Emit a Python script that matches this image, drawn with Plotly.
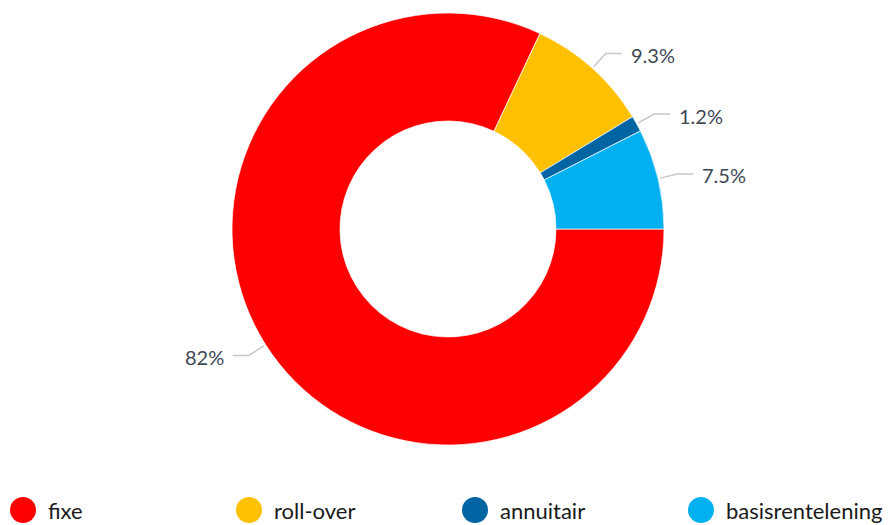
import math
import plotly.graph_objects as go

# ---- data ----
categories = ["fixe", "roll-over", "annuitair", "basisrentelening"]
values = [82, 9.3, 1.2, 7.5]
value_labels = ["82%", "9.3%", "1.2%", "7.5%"]
colors = ["#FF0000", "#FFC000", "#0065A2", "#00B0F0"]

# ---- layout constants ----
W, H = 889, 525
CX, CY, R = 448, 229, 216  # pie centre / radius in pixels
dom_x = [(CX - R) / W, (CX + R) / W]
dom_y = [1 - (CY + R) / H, 1 - (CY - R) / H]

LABEL_FONT = dict(family="Lato, 'Open Sans', sans-serif", size=20, color="#3D4756")
LEGEND_FONT = dict(family="Lato, 'Open Sans', sans-serif", size=22, color="#1A1A1A")

fig = go.Figure(
    go.Pie(
        labels=categories,
        values=values,
        marker=dict(colors=colors, line=dict(color="white", width=0.7)),
        hole=0.5,
        sort=False,
        direction="clockwise",
        rotation=90,
        textinfo="none",
        domain=dict(x=dom_x, y=dom_y),
        showlegend=False,
    )
)

def px(x):
    return x / W

def py(y):
    return 1 - y / H

shapes = []
annotations = []
total = sum(values)
cum = 0.0
for lab, v in zip(value_labels, values):
    mid = (cum + v / 2) / total * 2 * math.pi  # clockwise from 3 o'clock
    cum += v
    dx, dy = math.cos(mid), math.sin(mid)  # dy positive = down in pixels
    sx, sy = CX + (R + 2) * dx, CY + (R + 2) * dy
    bx, by = CX + (R + 20) * dx, CY + (R + 20) * dy
    side = 1 if dx >= 0 else -1
    ex = bx + 16 * side
    shapes.append(dict(
        type="path", xref="paper", yref="paper",
        path=f"M {px(sx)} {py(sy)} L {px(bx)} {py(by)} L {px(ex)} {py(by)}",
        line=dict(color="#C8C8C8", width=1.5),
    ))
    annotations.append(dict(
        x=px(ex + 7 * side), y=py(by + 1.5), xref="paper", yref="paper",
        text=lab, showarrow=False, font=LABEL_FONT,
        xanchor="left" if side > 0 else "right", yanchor="middle",
    ))

# ---- custom legend with round symbols ----
LEG_Y = 510
for i, (cat, col) in enumerate(zip(categories, colors)):
    cx = 23 + i * 226
    shapes.append(dict(
        type="circle", xref="paper", yref="paper",
        x0=px(cx - 13), x1=px(cx + 13), y0=py(LEG_Y + 13), y1=py(LEG_Y - 13),
        fillcolor=col, line=dict(width=0),
    ))
    annotations.append(dict(
        x=px(cx + 23), y=py(LEG_Y), xref="paper", yref="paper",
        text=cat, showarrow=False, font=LEGEND_FONT,
        xanchor="left", yanchor="middle",
    ))

fig.update_layout(
    width=W, height=H,
    margin=dict(l=0, r=0, t=0, b=0),
    paper_bgcolor="white", plot_bgcolor="white",
    shapes=shapes, annotations=annotations,
    showlegend=False,
)

fig.write_html("out.html")
